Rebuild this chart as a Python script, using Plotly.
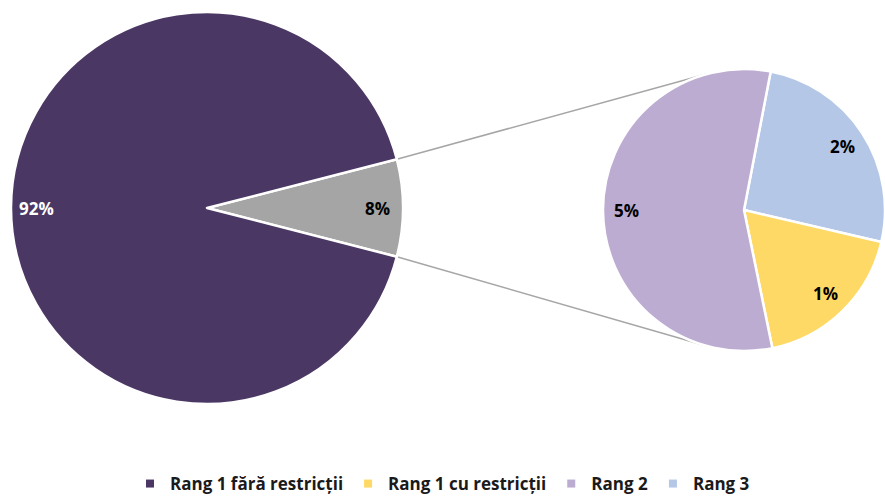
import math
import plotly.graph_objects as go

# ---------------- data ----------------
main_label = "Rang 1 fără restricții"
main_value = 92.0
sub_labels = ["Rang 3", "Rang 1 cu restricții", "Rang 2"]
sub_values = [2.05, 1.45, 4.5]
legend_labels = ["Rang 1 fără restricții", "Rang 1 cu restricții", "Rang 2", "Rang 3"]

# ---------------- style ----------------
C_MAIN = "#4B3764"
C_OTHER = "#A5A5A5"
sub_colors = {"Rang 3": "#B4C7E7", "Rang 1 cu restricții": "#FED966", "Rang 2": "#BDACD2"}
legend_colors = {"Rang 1 fără restricții": C_MAIN, **sub_colors}
FONT = "Open Sans"

W, H = 885, 498
# left pie geometry (px)
L_CX, L_CY, L_R = 207, 208, 196
# right pie geometry (px)
R_LEFT = 603
R_R = (W - R_LEFT) / 2
R_CX, R_CY = R_LEFT + R_R, 210
SUB_ROT = 10.9

other_value = sum(sub_values)
total = main_value + other_value
left_labels = ["Rang 1 cu restricții, Rang 2, Rang 3", main_label]
left_values = [other_value, main_value]
left_rot = 90 - other_value / total * 360 / 2


def px2paper(x, y):
    return x / W, 1 - y / H


def pt(cx, cy, r, ang):
    a = math.radians(ang)
    return cx + r * math.sin(a), cy - r * math.cos(a)


fig = go.Figure()

fig.add_trace(go.Pie(
    labels=left_labels, values=left_values, sort=False, direction="clockwise",
    rotation=left_rot, textinfo="none", hoverinfo="label+percent",
    marker=dict(colors=[C_OTHER, C_MAIN], line=dict(color="white", width=2.5)),
    domain=dict(x=[(L_CX - L_R) / W, (L_CX + L_R) / W],
                y=[1 - (L_CY + L_R) / H, 1 - (L_CY - L_R) / H]),
    showlegend=False,
))

fig.add_trace(go.Pie(
    labels=sub_labels, values=sub_values, sort=False, direction="clockwise",
    rotation=SUB_ROT, textinfo="none", hoverinfo="label+value",
    marker=dict(colors=[sub_colors[l] for l in sub_labels], line=dict(color="white", width=2.5)),
    domain=dict(x=[(R_CX - R_R) / W, 1.0],
                y=[1 - (R_CY + R_R) / H, 1 - (R_CY - R_R) / H]),
    showlegend=False,
))

# legend entries
for lab in legend_labels:
    fig.add_trace(go.Scatter(
        x=[None], y=[None], mode="markers", name=lab,
        marker=dict(symbol="square", size=8, color=legend_colors[lab]),
        hoverinfo="skip",
    ))

annotations = []


def add_labels(values, rot, cx, cy, r, frac, colors):
    tot = sum(values)
    start = rot
    for v, col in zip(values, colors):
        span = v / tot * 360
        mid = start + span / 2
        x, y = pt(cx, cy, r * frac, mid)
        px, py = px2paper(x, y)
        annotations.append(dict(
            x=px, y=py, xref="paper", yref="paper", showarrow=False,
            text=f"{int(v + 0.5)}%", font=dict(family=FONT, size=17, color=col, weight="bold"),
            xanchor="center", yanchor="middle",
        ))
        start += span


add_labels(left_values, left_rot, L_CX, L_CY, L_R, 0.87, ["#000000", "#FFFFFF"])
add_labels(sub_values, SUB_ROT, R_CX, R_CY, R_R, 0.83, ["#000000"] * 3)

# connector lines
shapes = []
g_span = other_value / total * 360
edge_up = pt(L_CX, L_CY, L_R, left_rot)
edge_dn = pt(L_CX, L_CY, L_R, left_rot + g_span)


def tangent(P, upper):
    dx, dy = P[0] - R_CX, P[1] - R_CY
    d = math.hypot(dx, dy)
    phi = math.atan2(dy, dx)
    alpha = math.acos(R_R / d)
    cands = [(R_CX + R_R * math.cos(phi + s * alpha), R_CY + R_R * math.sin(phi + s * alpha)) for s in (1, -1)]
    return min(cands, key=lambda c: c[1]) if upper else max(cands, key=lambda c: c[1])


for P, up in ((edge_up, True), (edge_dn, False)):
    T = tangent(P, up)
    x0, y0 = px2paper(*P)
    x1, y1 = px2paper(*T)
    shapes.append(dict(type="line", xref="paper", yref="paper", x0=x0, y0=y0, x1=x1, y1=y1,
                       line=dict(color="#A6A6A6", width=1.5), layer="below"))

fig.update_layout(
    width=W, height=H,
    margin=dict(l=0, r=0, t=0, b=0, autoexpand=False),
    paper_bgcolor="white", plot_bgcolor="white",
    xaxis=dict(visible=False, range=[0, 1]), yaxis=dict(visible=False, range=[0, 1]),
    annotations=annotations, shapes=shapes,
    legend=dict(orientation="h", x=0.5, xanchor="center", y=1 - 484 / H, yanchor="middle",
                yref="container",
                font=dict(family=FONT, size=17, color="#1A1A1A", weight="bold"),
                itemclick=False, itemdoubleclick=False, tracegroupgap=0),
    font=dict(family=FONT),
)

fig.write_html("out.html")
